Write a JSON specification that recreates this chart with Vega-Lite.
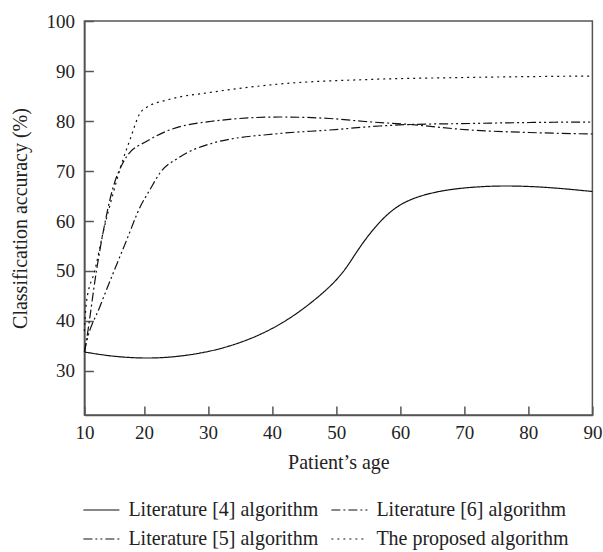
{
  "$schema": "https://vega.github.io/schema/vega-lite/v6.json",
  "width": 508,
  "height": 394,
  "autosize": {"type": "none"},
  "padding": {"left": 84.4, "top": 21, "right": 10.5, "bottom": 137},
  "background": "white",
  "config": {
    "font": "Liberation Serif",
    "view": {"stroke": "#555", "strokeWidth": 1.5},
    "axis": {
      "grid": false,
      "labelFontSize": 19,
      "labelColor": "#222",
      "titleFontSize": 20,
      "titleFontWeight": "normal",
      "titleColor": "#222",
      "domainColor": "#555",
      "domainWidth": 1.5,
      "tickColor": "#555",
      "tickWidth": 1.5
    }
  },
  "data": {
    "values": [
      {"s": "Literature [4] algorithm", "age": 10.7, "acc": 33.8},
      {"s": "Literature [4] algorithm", "age": 15, "acc": 33.0},
      {"s": "Literature [4] algorithm", "age": 20, "acc": 32.6},
      {"s": "Literature [4] algorithm", "age": 25, "acc": 32.9},
      {"s": "Literature [4] algorithm", "age": 30, "acc": 33.9},
      {"s": "Literature [4] algorithm", "age": 35, "acc": 35.7},
      {"s": "Literature [4] algorithm", "age": 40, "acc": 38.5},
      {"s": "Literature [4] algorithm", "age": 45, "acc": 42.6},
      {"s": "Literature [4] algorithm", "age": 50, "acc": 48.2},
      {"s": "Literature [4] algorithm", "age": 53, "acc": 53.4},
      {"s": "Literature [4] algorithm", "age": 56, "acc": 58.6},
      {"s": "Literature [4] algorithm", "age": 60, "acc": 63.2},
      {"s": "Literature [4] algorithm", "age": 65, "acc": 65.6},
      {"s": "Literature [4] algorithm", "age": 70, "acc": 66.6},
      {"s": "Literature [4] algorithm", "age": 76, "acc": 67},
      {"s": "Literature [4] algorithm", "age": 83, "acc": 66.7},
      {"s": "Literature [4] algorithm", "age": 90, "acc": 65.9},

      {"s": "Literature [6] algorithm", "age": 10.7, "acc": 33.8},
      {"s": "Literature [6] algorithm", "age": 11, "acc": 36},
      {"s": "Literature [6] algorithm", "age": 12.6, "acc": 50.2},
      {"s": "Literature [6] algorithm", "age": 13.6, "acc": 57.6},
      {"s": "Literature [6] algorithm", "age": 15.2, "acc": 66.8},
      {"s": "Literature [6] algorithm", "age": 16.7, "acc": 71.6},
      {"s": "Literature [6] algorithm", "age": 17.3, "acc": 72.9},
      {"s": "Literature [6] algorithm", "age": 20.5, "acc": 76},
      {"s": "Literature [6] algorithm", "age": 23.6, "acc": 78},
      {"s": "Literature [6] algorithm", "age": 30.3, "acc": 79.9},
      {"s": "Literature [6] algorithm", "age": 41.2, "acc": 80.8},
      {"s": "Literature [6] algorithm", "age": 49, "acc": 80.5},
      {"s": "Literature [6] algorithm", "age": 54.5, "acc": 79.9},
      {"s": "Literature [6] algorithm", "age": 61.5, "acc": 79.3},
      {"s": "Literature [6] algorithm", "age": 70.9, "acc": 78.2},
      {"s": "Literature [6] algorithm", "age": 80.2, "acc": 77.7},
      {"s": "Literature [6] algorithm", "age": 90, "acc": 77.4},

      {"s": "Literature [5] algorithm", "age": 10.7, "acc": 33.8},
      {"s": "Literature [5] algorithm", "age": 11, "acc": 35.6},
      {"s": "Literature [5] algorithm", "age": 13.1, "acc": 42.8},
      {"s": "Literature [5] algorithm", "age": 15.2, "acc": 49.6},
      {"s": "Literature [5] algorithm", "age": 17.3, "acc": 56.2},
      {"s": "Literature [5] algorithm", "age": 19.4, "acc": 62.8},
      {"s": "Literature [5] algorithm", "age": 20.9, "acc": 66.2},
      {"s": "Literature [5] algorithm", "age": 22.5, "acc": 69.6},
      {"s": "Literature [5] algorithm", "age": 25.6, "acc": 72.8},
      {"s": "Literature [5] algorithm", "age": 30.8, "acc": 75.6},
      {"s": "Literature [5] algorithm", "age": 41.2, "acc": 77.5},
      {"s": "Literature [5] algorithm", "age": 49, "acc": 78.2},
      {"s": "Literature [5] algorithm", "age": 56.8, "acc": 79},
      {"s": "Literature [5] algorithm", "age": 61.5, "acc": 79.3},
      {"s": "Literature [5] algorithm", "age": 70.9, "acc": 79.5},
      {"s": "Literature [5] algorithm", "age": 80.2, "acc": 79.7},
      {"s": "Literature [5] algorithm", "age": 90, "acc": 79.8},

      {"s": "The proposed algorithm", "age": 10.7, "acc": 38},
      {"s": "The proposed algorithm", "age": 11, "acc": 43.6},
      {"s": "The proposed algorithm", "age": 12.35, "acc": 50.2},
      {"s": "The proposed algorithm", "age": 13.6, "acc": 57.6},
      {"s": "The proposed algorithm", "age": 15.2, "acc": 65.6},
      {"s": "The proposed algorithm", "age": 16.7, "acc": 72.2},
      {"s": "The proposed algorithm", "age": 17.8, "acc": 76.2},
      {"s": "The proposed algorithm", "age": 19.4, "acc": 81.6},
      {"s": "The proposed algorithm", "age": 20.5, "acc": 82.8},
      {"s": "The proposed algorithm", "age": 23.6, "acc": 84.2},
      {"s": "The proposed algorithm", "age": 30.8, "acc": 85.8},
      {"s": "The proposed algorithm", "age": 41.2, "acc": 87.4},
      {"s": "The proposed algorithm", "age": 55, "acc": 88.3},
      {"s": "The proposed algorithm", "age": 70, "acc": 88.7},
      {"s": "The proposed algorithm", "age": 90, "acc": 89}
    ]
  },
  "encoding": {
    "x": {
      "field": "age",
      "type": "quantitative",
      "scale": {"domain": [10.7, 90], "nice": false, "zero": false},
      "axis": {
        "title": "Patient’s age",
        "values": [10.7, 20, 30, 40, 50, 60, 70, 80, 90],
        "labelExpr": "datum.value < 11 ? '10' : datum.label",
        "labelFlush": false,
        "tickSize": -9,
        "labelPadding": 18,
        "titlePadding": 10
      }
    },
    "y": {
      "field": "acc",
      "type": "quantitative",
      "scale": {"domain": [21.2, 100], "nice": false, "zero": false},
      "axis": {
        "title": "Classification accuracy (%)",
        "values": [30, 40, 50, 60, 70, 80, 90, 100],
        "tickSize": -9,
        "labelPadding": 19,
        "titlePadding": 15
      }
    },
    "strokeDash": {
      "field": "s",
      "type": "nominal",
      "scale": {
        "domain": ["Literature [4] algorithm", "Literature [5] algorithm", "Literature [6] algorithm", "The proposed algorithm"],
        "range": [[1, 0], [9, 3, 2, 3, 2, 3], [9, 3, 2, 3], [2, 4]]
      },
      "legend": {
        "title": null,
        "orient": "none",
        "legendX": -2,
        "legendY": 470,
        "columns": 2,
        "symbolType": "stroke",
        "symbolSize": 1300,
        "symbolStrokeWidth": 1.2,
        "symbolStrokeColor": "#111",
        "labelFontSize": 20,
        "labelLimit": 0,
        "labelColor": "#222",
        "labelOffset": 8,
        "columnPadding": 10,
        "rowPadding": -1
      }
    }
  },
  "layer": [
    {
      "transform": [{"filter": "datum.s === 'Literature [4] algorithm'"}],
      "mark": {"type": "line", "interpolate": "natural", "color": "#111", "strokeWidth": 1.2}
    },
    {
      "transform": [{"filter": "datum.s !== 'Literature [4] algorithm'"}],
      "mark": {"type": "line", "interpolate": "monotone", "color": "#111", "strokeWidth": 1.2}
    }
  ]
}
